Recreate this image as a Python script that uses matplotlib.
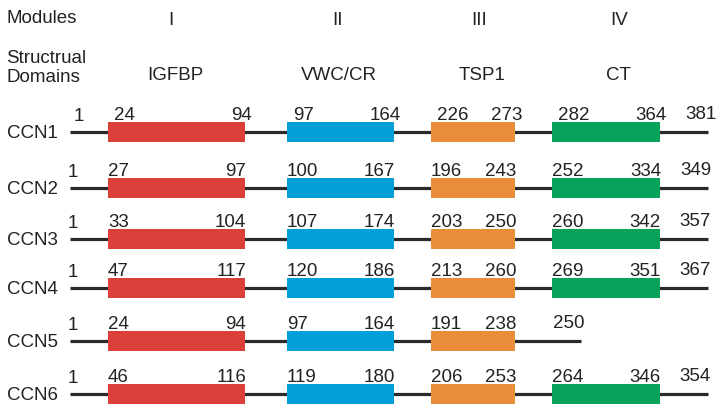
import matplotlib
matplotlib.use("Agg")
import matplotlib.pyplot as plt

plt.rcParams["font.family"] = ["Liberation Sans", "DejaVu Sans"]

proteins = ["CCN1", "CCN2", "CCN3", "CCN4", "CCN5", "CCN6"]
modules = ["I", "II", "III", "IV"]
domains = ["IGFBP", "VWC/CR", "TSP1", "CT"]
igfbp = [(24, 94), (27, 97), (33, 104), (47, 117), (24, 94), (46, 116)]
vwc = [(97, 164), (100, 167), (107, 174), (120, 186), (97, 164), (119, 180)]
tsp1 = [(226, 273), (196, 243), (203, 250), (213, 260), (191, 238), (206, 253)]
ct = [(282, 364), (252, 334), (260, 342), (269, 351), None, (264, 346)]
lengths = [381, 349, 357, 367, 250, 354]

# layout (pixel coordinates)
colors = ["#dc3f3a", "#049fd9", "#e98d3b", "#07a35b"]
col_x = [(108, 245), (287, 394), (431, 515), (552, 660)]
head_x = [171, 337, 479, 619]
dom_x = [175, 339, 482, 618]
row_y = [132, 188, 239, 288, 341, 394]
lab_dx = [6, 0, 0, 0, 0, 0]
line_x0, line_x1, short_x1 = 70, 708, 581
box_h = 20
fs = 13.5
txt = "#222222"

fig = plt.figure(figsize=(7.21, 4.11), dpi=100)
ax = fig.add_axes([0, 0, 1, 1])
ax.set_xlim(0, 721)
ax.set_ylim(411, 0)
ax.axis("off")

ax.text(6, 23, "Modules", fontsize=fs, color=txt)
ax.text(6, 63, "Structrual", fontsize=fs, color=txt)
ax.text(6, 82, "Domains", fontsize=fs, color=txt)
for m, d, hx, dx in zip(modules, domains, head_x, dom_x):
    ax.text(hx, 25, m, fontsize=fs, ha="center", color=txt)
    ax.text(dx, 80, d, fontsize=fs, ha="center", color=txt)

for i, name in enumerate(proteins):
    y = row_y[i]
    off = lab_dx[i]
    doms = [igfbp[i], vwc[i], tsp1[i], ct[i]]
    x_end = line_x1 if ct[i] is not None else short_x1
    ax.plot([line_x0, x_end], [y, y], color="#2a2a2a", lw=2.3,
            solid_capstyle="butt", zorder=1)
    ax.text(7, y + 6, name, fontsize=fs, color=txt)
    top = y - box_h / 2
    ax.text(line_x0 - 2 + off, top - 1, "1", fontsize=fs, color=txt)
    for j, dom in enumerate(doms):
        if dom is None:
            continue
        x0, x1 = col_x[j]
        ax.barh(y, x1 - x0, left=x0, height=box_h, color=colors[j],
                edgecolor="none", zorder=2)
        ax.text(x0 + off, top - 2, str(dom[0]), fontsize=fs, ha="left",
                color=txt)
        ax.text(x1 + 1 + off, top - 2, str(dom[1]), fontsize=fs, ha="right",
                color=txt)
    ax.text(x_end + 3 + off, top - 3, str(lengths[i]), fontsize=fs,
            ha="right", color=txt)

fig.savefig("out.png", dpi=100)
